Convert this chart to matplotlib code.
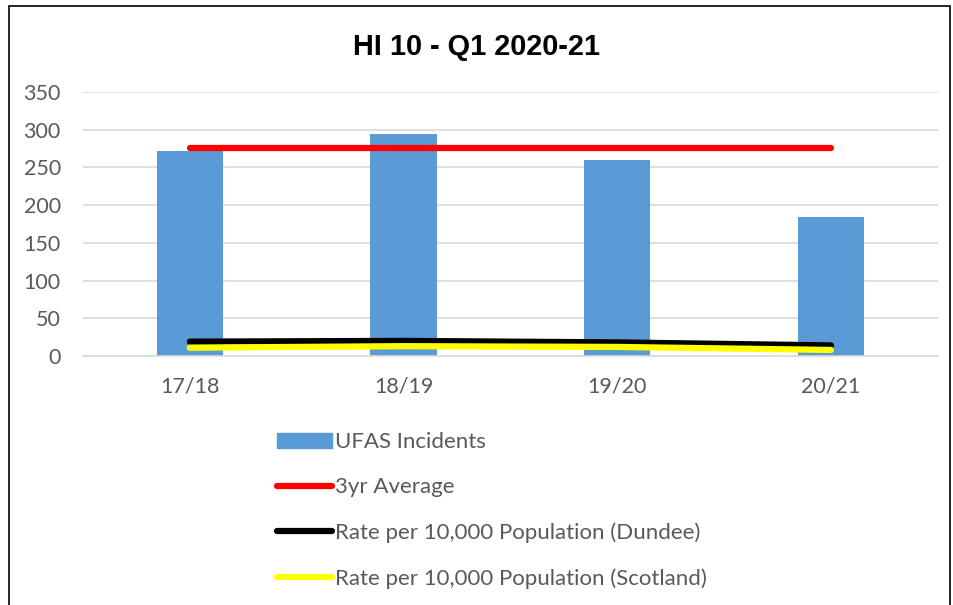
import matplotlib.pyplot as plt
from matplotlib.patches import Patch, Rectangle
from matplotlib.lines import Line2D
import numpy as np

# data
years = ['17/18', '18/19', '19/20', '20/21']
ufas = [272, 294, 260, 184]
avg3 = [276, 276, 276, 276]
rate_dundee = [19, 20, 18, 14]
rate_scotland = [11, 13, 12, 8]

plt.rcParams['font.family'] = ['Lato', 'DejaVu Sans']
grey = '#595959'

fig = plt.figure(figsize=(9.54, 6.05), dpi=100)
ax = fig.add_axes([0.087, 0.4116, 0.896, 0.4364])

x = np.arange(len(years))
ax.bar(x, ufas, width=0.31, color='#5b9bd5', zorder=2)
ax.plot(x, avg3, color='#ff0000', lw=4.5, solid_capstyle='round', zorder=3)
ax.plot(x, rate_dundee, color='black', lw=4.5, solid_capstyle='round', zorder=3)
ax.plot(x, rate_scotland, color='#ffff00', lw=4.5, solid_capstyle='round', zorder=4)

ax.set_xlim(-0.5, 3.5)
ax.set_ylim(0, 350)
ax.set_yticks(range(0, 351, 50))
ax.set_xticks(x)
ax.set_xticklabels(years)
ax.grid(axis='y', color='#d9d9d9', lw=1.2, zorder=0)
for s in ['top', 'right', 'left']:
    ax.spines[s].set_visible(False)
ax.spines['bottom'].set_color('#d9d9d9')
ax.spines['bottom'].set_linewidth(1.2)
ax.tick_params(axis='both', length=0, labelsize=15.5, labelcolor=grey)
ax.tick_params(axis='x', pad=15)
ax.tick_params(axis='y', pad=16)

fig.text(0.5, 0.922, 'HI 10 - Q1 2020-21', ha='center', va='center',
         fontsize=20.8, fontweight='bold', family='Liberation Sans')

handles = [Patch(color='#5b9bd5'),
           Line2D([], [], color='#ff0000', lw=4.5, solid_capstyle='round'),
           Line2D([], [], color='black', lw=4.5, solid_capstyle='round'),
           Line2D([], [], color='#ffff00', lw=4.5, solid_capstyle='round')]
labels = ['UFAS Incidents', '3yr Average', 'Rate per 10,000 Population (Dundee)',
          'Rate per 10,000 Population (Scotland)']
leg = fig.legend(handles, labels, loc='upper left', bbox_to_anchor=(0.2786, 0.304),
                 frameon=False, fontsize=16, labelspacing=1.13, handlelength=2.5,
                 handletextpad=0.12, borderpad=0)
for t in leg.get_texts():
    t.set_color(grey)

fig.patches.append(Rectangle((0.009, -0.01), 0.987, 1.0, transform=fig.transFigure,
                             fill=False, edgecolor='black', lw=1.2))

plt.savefig('out.png', dpi=100)
